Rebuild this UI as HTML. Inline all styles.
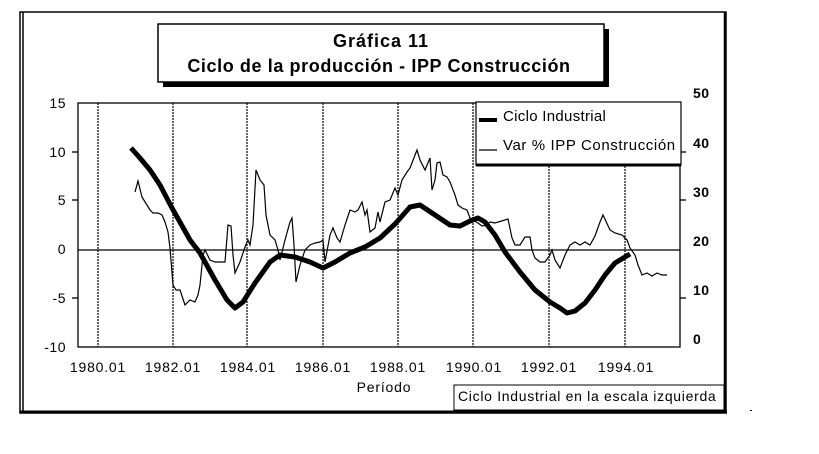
<!DOCTYPE html>
<html><head><meta charset="utf-8"><style>
html,body{margin:0;padding:0;background:#fff}
svg{display:block;font-family:"Liberation Sans",Arial,sans-serif}
</style></head><body>
<svg width="819" height="454" viewBox="0 0 819 454" xmlns="http://www.w3.org/2000/svg">
<rect x="0" y="0" width="819" height="454" fill="#fff"/>
<rect x="20" y="12" width="706" height="401" fill="none" stroke="#000" stroke-width="1.5"/>
<line x1="23" y1="12" x2="23" y2="413" stroke="#000" stroke-width="1.5"/>
<line x1="20" y1="412" x2="727" y2="412" stroke="#000" stroke-width="3"/>
<line x1="725" y1="12" x2="725" y2="413" stroke="#000" stroke-width="2.5"/>
<rect x="163" y="29" width="446" height="58" fill="#000"/>
<rect x="158" y="24" width="446" height="58" fill="#fff" stroke="#000" stroke-width="1.5"/>
<text x="381" y="47" font-size="18" font-weight="bold" text-anchor="middle" letter-spacing="1">Gráfica 11</text>
<text x="379" y="72" font-size="18" font-weight="bold" text-anchor="middle" letter-spacing="0.6">Ciclo de la producción - IPP Construcción</text>
<rect x="78" y="103" width="602" height="244" fill="none" stroke="#000" stroke-width="1.3"/>
<g stroke="#000" stroke-width="1.2" stroke-dasharray="2,1">
<line x1="98" y1="103" x2="98" y2="347"/><line x1="173" y1="103" x2="173" y2="347"/>
<line x1="247" y1="103" x2="247" y2="347"/><line x1="323" y1="103" x2="323" y2="347"/>
<line x1="398" y1="103" x2="398" y2="347"/><line x1="473" y1="103" x2="473" y2="347"/>
<line x1="549" y1="103" x2="549" y2="347"/><line x1="625" y1="103" x2="625" y2="347"/>
</g>
<line x1="78" y1="250" x2="680" y2="250" stroke="#000" stroke-width="1.3"/>
<g stroke="#000" stroke-width="1.3">
<line x1="72" y1="152" x2="78" y2="152"/><line x1="72" y1="200" x2="78" y2="200"/>
<line x1="72" y1="298" x2="78" y2="298"/>
<line x1="680" y1="152" x2="686" y2="152"/><line x1="680" y1="200" x2="686" y2="200"/>
<line x1="680" y1="298" x2="686" y2="298"/>
</g>
<g font-size="14" text-anchor="end" letter-spacing="0.5">
<text x="66" y="108">15</text><text x="66" y="157">10</text><text x="66" y="205">5</text>
<text x="66" y="254">0</text><text x="66" y="303">-5</text><text x="66" y="352">-10</text>
</g>
<g font-size="14" font-weight="bold" letter-spacing="0.5">
<text x="693" y="98">50</text><text x="693" y="148">40</text><text x="693" y="197">30</text>
<text x="693" y="246">20</text><text x="693" y="295">10</text><text x="693" y="344">0</text>
</g>
<g font-size="14" text-anchor="middle" letter-spacing="0.8">
<text x="98" y="372">1980.01</text><text x="173" y="372">1982.01</text><text x="248" y="372">1984.01</text>
<text x="323" y="372">1986.01</text><text x="398" y="372">1988.01</text><text x="474" y="372">1990.01</text>
<text x="549" y="372">1992.01</text><text x="626" y="372">1994.01</text>
<text x="384" y="392">Período</text>
</g>
<polyline fill="none" stroke="#000" stroke-width="1.2" points="135,192 138,181 142,197 150,210 153,213 158,213 162,215 165,222 168,232 170,248 173,285 176,290 180,290 185,305 190,300 195,302 198,295 200,285 203,255 205,250 210,260 215,262 220,262 225,262 228,225 231,226 233,255 235,273 240,262 245,247 248,240 250,245 253,225 256,170 260,180 264,185 266,215 270,235 275,240 278,250 280,260 285,240 290,222 292,218 294,245 296,282 300,265 305,250 310,245 315,243 320,242 323,240 325,262 330,235 333,228 337,238 340,242 345,225 350,210 355,212 358,210 362,202 365,215 367,210 370,232 375,228 378,212 380,222 385,202 390,200 395,188 398,195 402,180 407,172 410,168 417,150 420,160 425,170 430,158 432,190 435,180 437,163 440,162 443,175 447,177 450,182 455,195 458,205 462,208 467,210 470,218 473,220 478,223 482,226 487,225 490,222 495,223 508,219 512,238 515,245 520,245 525,237 530,237 532,250 535,258 540,262 545,262 550,255 552,250 555,260 560,268 565,255 570,245 575,242 580,245 585,242 590,245 595,236 600,222 603,215 610,230 615,233 622,235 627,240 630,248 635,255 638,265 642,275 647,273 652,276 657,273 662,275 667,275"/>
<polyline fill="none" stroke="#000" stroke-width="5" stroke-linejoin="round" points="131,148 140,158 150,170 160,185 172,208 190,240 200,253 215,280 227,300 235,308 243,302 255,283 270,262 280,255 295,257 310,262 323,268 335,262 350,253 365,247 380,238 395,224 410,207 420,205 435,215 450,225 460,226 470,221 478,218 485,222 495,235 505,252 520,272 535,290 550,302 560,308 567,313 575,311 585,303 595,290 605,275 615,263 625,257 630,254"/>
<rect x="476" y="102" width="205" height="63" fill="#fff" stroke="#000" stroke-width="1.2"/>
<line x1="476" y1="165" x2="681" y2="165" stroke="#000" stroke-width="3"/>
<line x1="479" y1="120" x2="497" y2="120" stroke="#000" stroke-width="4"/>
<line x1="479" y1="150" x2="497" y2="150" stroke="#000" stroke-width="1.3"/>
<text x="503" y="121" font-size="15" letter-spacing="0.3">Ciclo Industrial</text>
<text x="503" y="150" font-size="15" letter-spacing="0.6">Var % IPP Construcción</text>
<rect x="454" y="385" width="270" height="25" fill="#fff" stroke="#000" stroke-width="1"/>
<text x="458" y="401" font-size="14" letter-spacing="0.7">Ciclo Industrial en la escala izquierda</text>
<rect x="750" y="410" width="2" height="1" fill="#000"/>
</svg>
</body></html>
